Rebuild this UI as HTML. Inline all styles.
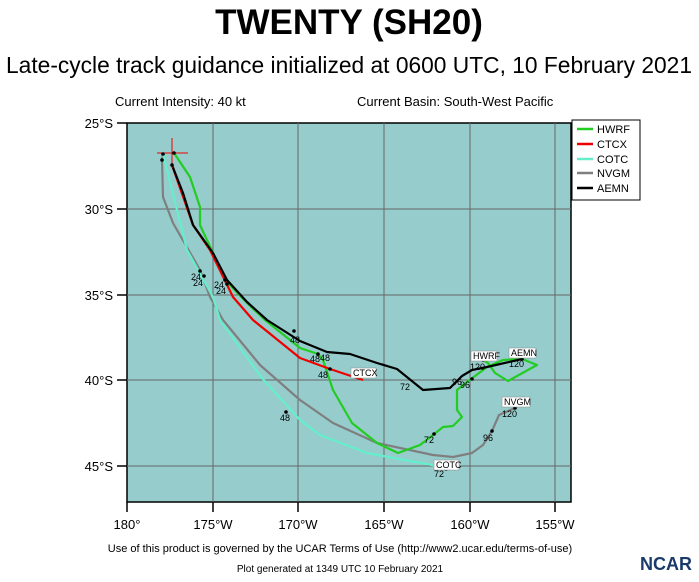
<!DOCTYPE html>
<html><head><style>
body{margin:0;background:#fff;}
svg text{font-family:"Liberation Sans",sans-serif;}
</style></head><body>
<svg width="699" height="577" xmlns="http://www.w3.org/2000/svg">
<text x="349" y="34" font-size="35" font-weight="bold" text-anchor="middle">TWENTY (SH20)</text>
<text x="349" y="73" font-size="23" text-anchor="middle" textLength="686" lengthAdjust="spacingAndGlyphs">Late-cycle track guidance initialized at 0600 UTC, 10 February 2021</text>
<text x="115" y="106" font-size="13">Current Intensity: 40 kt</text>
<text x="357" y="106" font-size="13">Current Basin: South-West Pacific</text>
<rect x="127" y="123" width="444" height="379" fill="#96cccc" stroke="#000" stroke-width="1.5"/>
<g stroke="#666" stroke-width="1">
<line x1="213" y1="123" x2="213" y2="502"/><line x1="298" y1="123" x2="298" y2="502"/>
<line x1="384" y1="123" x2="384" y2="502"/><line x1="470" y1="123" x2="470" y2="502"/>
<line x1="555" y1="123" x2="555" y2="502"/>
<line x1="127" y1="209" x2="571" y2="209"/><line x1="127" y1="295" x2="571" y2="295"/>
<line x1="127" y1="380" x2="571" y2="380"/><line x1="127" y1="466" x2="571" y2="466"/>
</g>
<g stroke="#000" stroke-width="1.5">
<line x1="117" y1="123" x2="127" y2="123"/><line x1="117" y1="209" x2="127" y2="209"/><line x1="117" y1="295" x2="127" y2="295"/><line x1="117" y1="380" x2="127" y2="380"/><line x1="117" y1="466" x2="127" y2="466"/>
<line x1="127" y1="502" x2="127" y2="512"/><line x1="213" y1="502" x2="213" y2="512"/><line x1="298" y1="502" x2="298" y2="512"/><line x1="384" y1="502" x2="384" y2="512"/><line x1="470" y1="502" x2="470" y2="512"/><line x1="555" y1="502" x2="555" y2="512"/>
</g>
<g font-size="13" text-anchor="end">
<text x="113" y="128">25°S</text><text x="113" y="214">30°S</text><text x="113" y="300">35°S</text><text x="113" y="385">40°S</text><text x="113" y="471">45°S</text>
</g>
<g font-size="13" text-anchor="middle">
<text x="127" y="529">180°</text><text x="213" y="529">175°W</text><text x="298" y="529">170°W</text><text x="384" y="529">165°W</text><text x="470" y="529">160°W</text><text x="555" y="529">155°W</text>
</g>
<g fill="none" stroke-linejoin="round" stroke-width="2.2">
<polyline stroke="#7f7f7f" points="163,154 162,160 163,197 173,223 200,270 210,297 223,320 260,365 300,400 333,423 377,443 433,455 453,457 472,453 483,445 492,431 499,415 515,408"/>
<polyline stroke="#66eecc" points="163,154 177,210 187,250 213,297 220,320 262,378 300,420 320,435 367,453 443,467"/>
<polyline stroke="#22cc22" points="174,153 190,177 200,207 200,225 213,253 225,280 247,303 265,320 300,348 318,354 323,360 333,390 352,423 377,443 398,453 420,445 433,435 443,427 453,426 462,417 457,410 457,390 467,382 487,367 503,360 522,359 537,365 508,381 495,373 488,363 483,360"/>
<polyline stroke="#ee0000" points="172,165 193,225 210,250 233,297 253,320 300,358 330,369 363,380"/>
<polyline stroke="#000" points="172,165 183,193 193,225 213,253 227,280 247,302 267,320 300,341 327,352 350,354 377,363 397,369 423,390 450,388 462,376 472,370 487,367 522,359"/>
</g>
<g stroke="#ee0000" stroke-width="1"><line x1="157" y1="153" x2="188" y2="153"/><line x1="172" y1="138" x2="172" y2="168"/></g>
<g fill="#000">
<circle cx="174" cy="153" r="1.8"/><circle cx="163" cy="154" r="1.8"/><circle cx="162" cy="160" r="1.8"/><circle cx="172" cy="165" r="1.8"/>
<circle cx="200" cy="271" r="1.8"/><circle cx="204" cy="276" r="1.8"/><circle cx="225" cy="280" r="1.8"/><circle cx="227" cy="284" r="1.8"/>
<circle cx="318" cy="354" r="1.8"/><circle cx="330" cy="369" r="1.8"/><circle cx="434" cy="434" r="1.8"/><circle cx="446" cy="469" r="1.8"/>
<circle cx="472" cy="379" r="1.8"/><circle cx="483" cy="360" r="1.8"/><circle cx="522" cy="359" r="1.8"/><circle cx="492" cy="431" r="1.8"/><circle cx="515" cy="408" r="1.8"/>
<circle cx="294" cy="331" r="1.8"/><circle cx="286" cy="412" r="1.8"/>
</g>
<g font-size="9" fill="#000">
<text x="191" y="280">24</text><text x="193" y="286">24</text><text x="214" y="288">24</text><text x="216" y="294">24</text>
<text x="310" y="362">48</text><text x="320" y="361">48</text><text x="318" y="378">48</text><text x="290" y="343">48</text><text x="280" y="421">48</text>
<text x="400" y="390">72</text><text x="424" y="443">72</text><text x="434" y="477">72</text>
<text x="452" y="385">96</text><text x="460" y="388">96</text><text x="483" y="441">96</text>
<text x="470" y="370">120</text><text x="509" y="367">120</text><text x="502" y="417">120</text>
</g>
<g font-size="9">
<rect x="471" y="351" width="26" height="10" fill="#fff" stroke="#888" stroke-width="0.5"/><text x="473" y="359">HWRF</text>
<rect x="509" y="348" width="27" height="10" fill="#fff" stroke="#888" stroke-width="0.5"/><text x="511" y="356">AEMN</text>
<rect x="351" y="368" width="25" height="10" fill="#fff" stroke="#888" stroke-width="0.5"/><text x="353" y="376">CTCX</text>
<rect x="502" y="397" width="28" height="10" fill="#fff" stroke="#888" stroke-width="0.5"/><text x="504" y="405">NVGM</text>
<rect x="434" y="460" width="25" height="10" fill="#fff" stroke="#888" stroke-width="0.5"/><text x="436" y="468">COTC</text>
</g>
<rect x="572" y="120" width="68" height="80" fill="#fff" stroke="#000" stroke-width="1"/>
<g stroke-width="2.5">
<line x1="577" y1="129" x2="593" y2="129" stroke="#22cc22"/>
<line x1="577" y1="144" x2="593" y2="144" stroke="#ee0000"/>
<line x1="577" y1="159" x2="593" y2="159" stroke="#66eecc"/>
<line x1="577" y1="173" x2="593" y2="173" stroke="#7f7f7f"/>
<line x1="577" y1="188" x2="593" y2="188" stroke="#000"/>
</g>
<g font-size="11">
<text x="597" y="133">HWRF</text><text x="597" y="148">CTCX</text><text x="597" y="163">COTC</text><text x="597" y="177">NVGM</text><text x="597" y="192">AEMN</text>
</g>
<text x="340" y="552" font-size="11" text-anchor="middle">Use of this product is governed by the UCAR Terms of Use (http://www2.ucar.edu/terms-of-use)</text>
<text x="340" y="572" font-size="10" text-anchor="middle">Plot generated at 1349 UTC   10 February 2021</text>
<text x="640" y="570" font-size="18" font-weight="bold" fill="#1a3a6a">NCAR</text>
</svg>
</body></html>
